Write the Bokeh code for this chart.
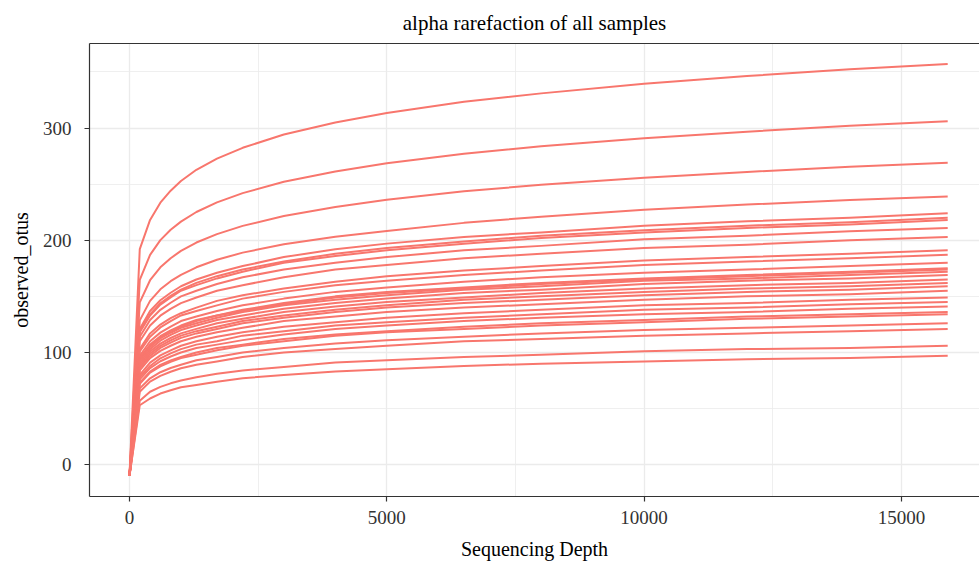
from bokeh.plotting import figure
from bokeh.models import Range1d, FixedTicker, LinearAxis
from bokeh.embed import file_html
from bokeh.resources import INLINE

# Sequencing depths at which every sample was read
depths = [0, 200, 400, 600, 800, 1000, 1300, 1700, 2200, 3000, 4000, 5000,
          6500, 8000, 10000, 12000, 14000, 15900]

# observed_otus per sample
s01 = [-10, 192.1, 218.1, 233.5, 244.2, 252.8, 262.8, 272.7, 282.4, 294.2, 304.9, 313.4, 323.4, 330.9, 339.5, 346.3, 352.4, 357]
s02 = [-10, 164.6, 187.0, 200.1, 209.3, 216.6, 225.2, 233.8, 242.0, 252.1, 261.3, 268.7, 277.2, 283.7, 291.0, 296.8, 302.0, 306]
s03 = [-10, 144.7, 164.4, 175.9, 184.0, 190.5, 198.0, 205.5, 212.8, 221.7, 229.7, 236.2, 243.7, 249.4, 255.8, 260.9, 265.5, 269]
s04 = [-10, 128.6, 146.0, 156.3, 163.5, 169.2, 175.9, 182.6, 189.0, 196.4, 203.1, 208.3, 215.5, 221.0, 227.3, 231.8, 235.9, 239]
s05 = [-10, 121, 137, 146.5, 153.2, 159, 165, 171, 177, 185, 192, 197, 203, 207, 213, 217, 220, 224]
s06 = [-10, 119, 134, 143.9, 150.5, 156, 162, 168, 174, 181, 188, 193, 199, 204, 209, 213, 216, 220]
s07 = [-10, 118, 133, 142.6, 149.1, 155, 160, 166, 172, 180, 186, 191, 197, 202, 207, 211, 214, 218]
s08 = [-10, 114, 129, 138.0, 144.3, 150, 155, 161, 167, 174, 180, 185, 191, 195, 201, 204, 208, 211]
s09 = [-10, 110, 124, 132.8, 138.9, 144, 149, 155, 160, 167, 174, 178, 184, 188, 193, 196, 200, 203]
s10 = [-10, 103, 117, 124.9, 130.6, 135, 140, 146, 151, 157, 163, 168, 173, 177, 182, 185, 188, 191]
s11 = [-10, 101, 114, 122.3, 127.9, 133, 137, 142, 148, 154, 160, 164, 169, 173, 178, 181, 184, 187]
s12 = [-10, 97, 110, 117.7, 123.1, 128, 132, 137, 142, 148, 154, 158, 163, 167, 171, 174, 177, 180]
s13 = [-10, 95, 107, 114.5, 119.7, 124, 129, 133, 138, 144, 150, 154, 158, 162, 166, 169, 172, 175]
s14 = [-10, 94, 106, 113.8, 119.0, 123, 128, 133, 137, 143, 149, 153, 157, 161, 165, 168, 171, 174]
s15 = [-10, 93, 105, 112.5, 117.6, 122, 126, 131, 136, 142, 147, 151, 156, 159, 164, 166, 169, 172]
s16 = [-10, 91, 103, 110.5, 115.6, 120, 124, 129, 133, 139, 144, 148, 153, 156, 161, 164, 166, 169]
s17 = [-10, 89, 101, 107.9, 112.9, 117, 121, 126, 130, 136, 141, 145, 149, 153, 157, 160, 162, 165]
s18 = [-10, 87, 99, 105.9, 110.8, 115, 119, 123, 128, 133, 138, 142, 147, 150, 154, 157, 159, 162]
s19 = [-10, 86, 97, 104.0, 108.8, 113, 117, 121, 126, 131, 136, 140, 144, 147, 151, 154, 156, 159]
s20 = [-10, 84, 95, 101.4, 106.0, 110, 114, 118, 122, 128, 132, 136, 140, 143, 147, 150, 152, 155]
s21 = [-10, 80, 91, 97.4, 101.9, 106, 110, 114, 118, 123, 127, 131, 135, 138, 142, 144, 147, 149]
s22 = [-10, 78, 88, 94.8, 99.2, 103, 107, 110, 115, 119, 124, 127, 131, 134, 138, 140, 143, 145]
s23 = [-10, 76, 86, 92.2, 96.4, 100, 104, 107, 111, 116, 121, 124, 128, 131, 134, 136, 139, 141]
s24 = [-10, 73, 83, 88.9, 93.0, 96, 100, 104, 107, 112, 116, 119, 123, 126, 129, 132, 134, 136]
s25 = [-10, 72, 82, 87.6, 91.7, 95, 98, 102, 106, 110, 115, 118, 121, 124, 127, 130, 132, 134]
s26 = [-10, 68, 77, 82.4, 86.2, 89, 93, 96, 100, 104, 108, 111, 114, 117, 120, 122, 124, 126]
s27 = [-10, 65, 74, 79.1, 82.8, 86, 89, 92, 96, 100, 103, 106, 110, 112, 115, 117, 119, 121]
s28 = [-10, 57, 65, 69.3, 72.5, 75, 78, 81, 84, 87, 91, 93, 96, 98, 101, 103, 104, 106]
s29 = [-10, 53, 59, 63.4, 66.3, 69, 71, 74, 77, 80, 83, 85, 88, 90, 92, 94, 95, 97]

samples = [s01, s02, s03, s04, s05, s06, s07, s08, s09, s10, s11, s12, s13, s14,
           s15, s16, s17, s18, s19, s20, s21, s22, s23, s24, s25, s26, s27, s28, s29]

x_ticks = [0, 5000, 10000, 15000]
x_minor = [2500, 7500, 12500]
y_ticks = [0, 100, 200, 300]
y_minor = [50, 150, 250, 350]

FONT = "Liberation Serif"

p = figure(width=979, height=567, output_backend="svg", toolbar_location=None,
           x_range=Range1d(-777, 16518), y_range=Range1d(-28.35, 375.35),
           title="alpha rarefaction of all samples",
           min_border_left=89, min_border_right=0, min_border_bottom=71,
           min_border_top=42)

p.outline_line_color = None
p.background_fill_color = "white"
p.border_fill_color = "white"

p.title.align = "center"
p.title.text_font = FONT
p.title.text_font_size = "21px"
p.title.text_font_style = "normal"
p.title.text_color = "black"
p.title.offset = 0
p.title.standoff = 17

p.xaxis.ticker = FixedTicker(ticks=x_ticks, minor_ticks=x_minor)
p.yaxis.ticker = FixedTicker(ticks=y_ticks, minor_ticks=y_minor)

for ax in (p.xaxis[0], p.yaxis[0]):
    ax.axis_line_color = "#333333"
    ax.axis_line_width = 1.2
    ax.major_tick_line_color = "#333333"
    ax.major_tick_line_width = 1.2
    ax.major_tick_in = 0
    ax.major_tick_out = 5
    ax.minor_tick_line_color = None
    ax.major_label_text_font = FONT
    ax.major_label_text_font_size = "19px"
    ax.major_label_text_color = "#333333"
    ax.axis_label_text_font = FONT
    ax.axis_label_text_font_size = "20px"
    ax.axis_label_text_font_style = "normal"
    ax.axis_label_text_color = "black"

p.xaxis.axis_label = "Sequencing Depth"
p.yaxis.axis_label = "observed_otus"
p.xaxis.major_label_standoff = 9
p.xaxis.axis_label_standoff = 11
p.yaxis.major_label_standoff = 13
p.yaxis.axis_label_standoff = 8

top = LinearAxis(ticker=FixedTicker(ticks=[]), axis_line_color="#333333",
                 axis_line_width=1.2, major_tick_line_color=None,
                 minor_tick_line_color=None, major_label_text_font_size="0px")
p.add_layout(top, "above")

p.xgrid.grid_line_color = "#EBEBEB"
p.xgrid.grid_line_width = 1.3
p.ygrid.grid_line_color = "#EBEBEB"
p.ygrid.grid_line_width = 1.3
p.xgrid.minor_grid_line_color = "#EBEBEB"
p.xgrid.minor_grid_line_width = 0.8
p.ygrid.minor_grid_line_color = "#EBEBEB"
p.ygrid.minor_grid_line_width = 0.8

p.multi_line(xs=[depths] * len(samples), ys=samples,
             line_color="#F8766D", line_width=2, line_join="round")

open("out.html", "w").write(file_html(p, INLINE))
